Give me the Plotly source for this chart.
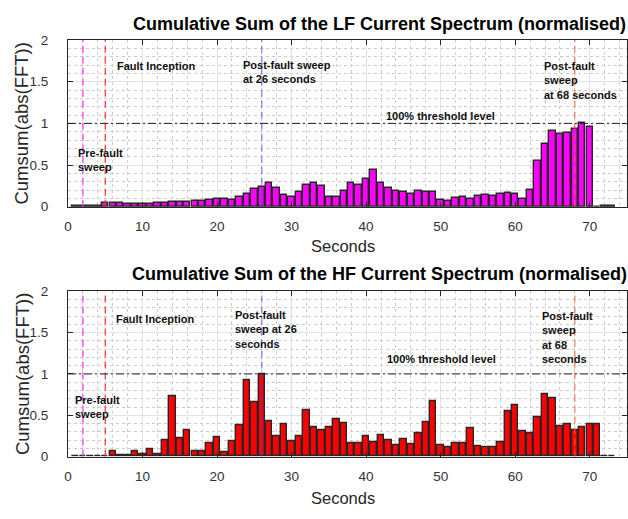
import plotly.graph_objects as go

# Sweep index (seconds) and normalised cumulative spectrum sums
seconds = list(range(1, 74))

lf_cumsum = [
    0.004, 0.006, 0.006, 0.010, 0.039, 0.043, 0.039, 0.035, 0.035, 0.035,
    0.035, 0.039, 0.047, 0.054, 0.054, 0.058, 0.066, 0.074, 0.086, 0.093,
    0.097, 0.082, 0.117, 0.156, 0.214, 0.241, 0.284, 0.228, 0.140, 0.119,
    0.173, 0.260, 0.280, 0.251, 0.117, 0.117, 0.187, 0.284, 0.257, 0.327,
    0.440, 0.284, 0.222, 0.187, 0.171, 0.152, 0.187, 0.179, 0.171, 0.080,
    0.074, 0.101, 0.120, 0.093, 0.132, 0.144, 0.128, 0.152, 0.167, 0.148,
    0.089, 0.198, 0.553, 0.755, 0.903, 0.875, 0.883, 0.938, 1.000, 0.957,
    0.000, 0.005, 0.005,
]

hf_cumsum = [
    0.003, 0.005, 0.003, 0.008, 0.003, 0.060, 0.020, 0.020, 0.066, 0.023,
    0.090, 0.030, 0.195, 0.727, 0.220, 0.324, 0.062, 0.070, 0.164, 0.234,
    0.055, 0.180, 0.380, 0.926, 0.660, 1.000, 0.426, 0.246, 0.395, 0.184,
    0.246, 0.559, 0.355, 0.324, 0.355, 0.453, 0.406, 0.164, 0.164, 0.246,
    0.172, 0.258, 0.200, 0.140, 0.207, 0.152, 0.285, 0.418, 0.668, 0.137,
    0.117, 0.164, 0.160, 0.340, 0.121, 0.109, 0.113, 0.168, 0.550, 0.617,
    0.312, 0.281, 0.473, 0.758, 0.707, 0.367, 0.390, 0.316, 0.355, 0.395,
    0.395, 0.004, 0.004,
]

x_ticks = [0, 10, 20, 30, 40, 50, 60, 70]
y_ticks = [0, 0.5, 1, 1.5, 2]
y_tick_text = ["0", "0.5", "1", "1.5", "2"]

# Event markers: (seconds, colour)
event_lines = [
    (2, "rgba(255,50,255,0.95)"),
    (5, "rgba(255,40,40,0.9)"),
    (26, "rgba(60,60,255,0.6)"),
    (68, "rgba(235,100,50,0.75)"),
]
threshold = 1.0

W, H = 628, 519
ML, MR = 68, 1
PW = W - ML - MR
FONT = "Liberation Sans, Arial, Helvetica, sans-serif"
AX = "#262626"

top_dom = [1 - 205.7 / H, 1 - 34.0 / H]
bot_dom = [1 - 463.0 / H, 1 - 292.7 / H]


def px_x(p):
    """Pixel column -> paper x."""
    return (p - ML) / PW


fig = go.Figure()
fig.add_trace(go.Bar(
    x=seconds, y=lf_cumsum, width=0.86, xaxis="x", yaxis="y",
    marker=dict(color="#ff00ff", line=dict(color="#262626", width=1.4)),
    showlegend=False,
))
fig.add_trace(go.Bar(
    x=seconds, y=hf_cumsum, width=0.86, xaxis="x2", yaxis="y2",
    marker=dict(color="#ff0000", line=dict(color="#262626", width=1.4)),
    showlegend=False,
))


def xaxis_cfg(anchor):
    return dict(
        anchor=anchor, domain=[0, 1], range=[0, 75],
        tickvals=x_ticks, ticks="inside", ticklen=5, tickcolor=AX,
        showline=True, linecolor=AX, linewidth=1, mirror="ticks",
        showgrid=True, gridcolor="#e2e2e2", gridwidth=1, zeroline=False,
        minor=dict(dtick=2, tick0=0, showgrid=True, gridcolor="#cccccc",
                   griddash="dot", gridwidth=1),
        tickfont=dict(family=FONT, size=13.5, color="#333333"),
        ticklabelstandoff=7,
    )


def yaxis_cfg(anchor, dom):
    return dict(
        anchor=anchor, domain=dom, range=[0, 2],
        tickvals=y_ticks, ticktext=y_tick_text, ticks="inside", ticklen=5,
        tickcolor=AX, showline=True, linecolor=AX, linewidth=1,
        mirror="ticks", showgrid=True, gridcolor="#e2e2e2", gridwidth=1,
        zeroline=False,
        minor=dict(dtick=0.1, tick0=0, showgrid=True, gridcolor="#cccccc",
                   griddash="dot", gridwidth=1),
        tickfont=dict(family=FONT, size=13.5, color="#333333"),
        ticklabelstandoff=16,
    )


shapes = []
for xr, yr in (("x", "y"), ("x2", "y2")):
    for sec, col in event_lines:
        shapes.append(dict(
            type="line", xref=xr, yref=yr + " domain", x0=sec, x1=sec,
            y0=0, y1=1, line=dict(color=col, width=1.3, dash="7px,4px"),
            layer="above",
        ))
    shapes.append(dict(
        type="line", xref=xr + " domain", yref=yr, x0=0, x1=1,
        y0=threshold, y1=threshold,
        line=dict(color="#202020", width=1, dash="8px,3px,2px,3px"),
        layer="above",
    ))

lbl = dict(family=FONT, size=11, color="#111111")


def note(text, x, y, xr, yr):
    return dict(text=text, x=x, y=y, xref=xr, yref=yr, showarrow=False,
                xanchor="left", yanchor="middle", align="left", font=lbl)


annotations = [
    # LF panel
    note("<b>Pre-fault<br>sweep</b>", 1.1, 0.56, "x", "y"),
    note("<b>Fault Inception</b>", 6.3, 1.69, "x", "y"),
    note("<b>Post-fault sweep<br>at 26 seconds</b>", 23.2, 1.62, "x", "y"),
    note("<b>100% threshold level</b>", 42.4, 1.085, "x", "y"),
    note("<b>Post-fault<br>sweep<br>at 68 seconds</b>", 63.6, 1.52, "x", "y"),
    # HF panel
    note("<b>Pre-fault<br>sweep</b>", 0.7, 0.60, "x2", "y2"),
    note("<b>Fault Inception</b>", 6.2, 1.665, "x2", "y2"),
    note("<b>Post-fault<br>sweep at 26<br>seconds</b>", 22.2, 1.535, "x2", "y2"),
    note("<b>100% threshold level</b>", 42.5, 1.18, "x2", "y2"),
    note("<b>Post-fault<br>sweep<br>at 68<br>seconds</b>", 63.3, 1.435, "x2", "y2"),
]

title_font = dict(family=FONT, size=18, color="#000000")
axis_title_font = dict(family=FONT, size=16.5, color="#262626")
ylabel_font = dict(family=FONT, size=18.5, color="#262626")
for ytxt, ysec, ylab, ymid in (
    ("Cumulative Sum of the LF Current Spectrum (normalised)", 17, 246, 120),
    ("Cumulative Sum of the HF Current Spectrum (normalised)", 275, 506, 378),
):
    annotations.append(dict(
        text="<b>" + ytxt + "</b>", x=px_x(379), y=1 - ysec / H,
        xref="paper", yref="paper", xanchor="center", yanchor="middle",
        showarrow=False, font=title_font,
    ))
    annotations.append(dict(
        text="Seconds", x=px_x(343), y=1 - ylab / H,
        xref="paper", yref="paper", xanchor="center", yanchor="middle",
        showarrow=False, font=axis_title_font,
    ))
    annotations.append(dict(
        text="Cumsum(abs(FFT))", x=px_x(22), y=1 - ymid / H,
        xref="paper", yref="paper", xanchor="center", yanchor="middle",
        textangle=-90, showarrow=False, font=ylabel_font,
    ))

fig.update_layout(
    width=W, height=H,
    margin=dict(l=ML, r=MR, t=0, b=0),
    paper_bgcolor="white", plot_bgcolor="white",
    bargap=0, barmode="overlay",
    xaxis=xaxis_cfg("y"), yaxis=yaxis_cfg("x", top_dom),
    xaxis2=xaxis_cfg("y2"), yaxis2=yaxis_cfg("x2", bot_dom),
    shapes=shapes, annotations=annotations,
    showlegend=False,
)

fig.write_html("out.html")
